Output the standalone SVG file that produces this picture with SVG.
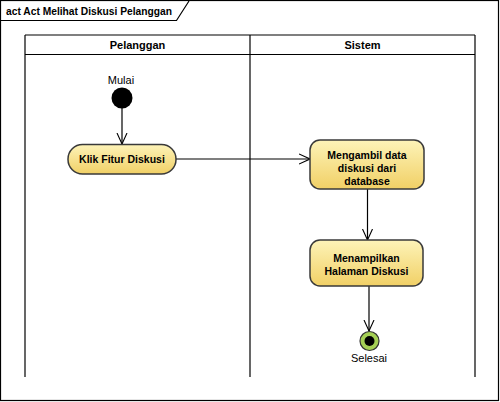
<svg xmlns="http://www.w3.org/2000/svg" width="500" height="402" viewBox="0 0 500 402">
  <style>
    .frame { fill: none; stroke: #000; stroke-width: 1.2; }
    .lane { fill: none; stroke: #000; stroke-width: 1.2; }
    .hdr { font-family: "Liberation Sans", Arial, sans-serif; font-size: 11px; font-weight: bold; fill: #000; text-anchor: middle; }
    .title { font-family: "Liberation Sans", Arial, sans-serif; font-size: 11px; font-weight: bold; fill: #000; }
    .act { fill: url(#actFill); stroke: #3a3a3a; stroke-width: 1.5; }
    .lbl { font-family: "Liberation Sans", Arial, sans-serif; font-size: 10.5px; font-weight: bold; fill: #000; text-anchor: middle; }
    .cap { font-family: "Liberation Sans", Arial, sans-serif; font-size: 11px; fill: #000; text-anchor: middle; }
    .flow { fill: none; stroke: #000; stroke-width: 1.2; marker-end: url(#open); }
  </style>
  <defs>
    <linearGradient id="actFill" x1="0" y1="0" x2="0" y2="1">
      <stop offset="0" stop-color="#fdf3b8"/>
      <stop offset="1" stop-color="#f1d066"/>
    </linearGradient>
    <marker id="open" viewBox="0 0 12 12" refX="11" refY="6" markerWidth="12" markerHeight="12" markerUnits="userSpaceOnUse" orient="auto">
      <path d="M0,1 L11,6 L0,11" fill="none" stroke="#000" stroke-width="1.1"/>
    </marker>
  </defs>

  <!-- diagram frame with name tab -->
  <rect class="frame" x="0.5" y="0.5" width="498" height="400"/>
  <polyline class="frame" points="0.5,20.5 176.5,20.5 189,1"/>
  <text class="title" x="6" y="15" textLength="166" lengthAdjust="spacingAndGlyphs">act Act Melihat Diskusi Pelanggan</text>

  <!-- swimlanes -->
  <g id="lanes">
    <line class="lane" x1="25" y1="35" x2="475" y2="35"/>
    <line class="lane" x1="25" y1="54.5" x2="475" y2="54.5"/>
    <line class="lane" x1="25" y1="35" x2="25" y2="377"/>
    <line class="lane" x1="250" y1="35" x2="250" y2="377"/>
    <line class="lane" x1="475" y1="35" x2="475" y2="377"/>
    <text class="hdr" x="137.5" y="49">Pelanggan</text>
    <text class="hdr" x="362.5" y="49">Sistem</text>
  </g>

  <!-- control flows -->
  <g id="connectors">
    <line class="flow" x1="122" y1="108" x2="122" y2="144"/>
    <line class="flow" x1="176" y1="159" x2="310" y2="159"/>
    <line class="flow" x1="367.5" y1="189" x2="367.5" y2="240"/>
    <line class="flow" x1="369" y1="286" x2="369" y2="331"/>
  </g>

  <g id="start">
    <text class="cap" x="121" y="84">Mulai</text>
    <circle cx="122" cy="98" r="10.5" fill="#000"/>
  </g>

  <g id="klikFitur">
    <rect class="act" x="68" y="144.5" width="108" height="29.5" rx="14.5"/>
    <text class="lbl" x="122" y="163">Klik Fitur Diskusi</text>
  </g>

  <g id="ambilData">
    <rect class="act" x="310" y="140" width="114" height="49" rx="10"/>
    <text class="lbl" x="367" y="159">Mengambil data</text>
    <text class="lbl" x="367" y="172">diskusi dari</text>
    <text class="lbl" x="367" y="185">database</text>
  </g>

  <g id="tampilHalaman">
    <rect class="act" x="310" y="240" width="113" height="46" rx="10"/>
    <text class="lbl" x="366.5" y="262">Menampilkan</text>
    <text class="lbl" x="366.5" y="275">Halaman Diskusi</text>
  </g>

  <g id="final">
    <circle cx="369.5" cy="341" r="9.5" fill="#a5d055" stroke="#333" stroke-width="1.2"/>
    <circle cx="369.5" cy="341" r="5" fill="#000"/>
    <text class="cap" x="369" y="362">Selesai</text>
  </g>
</svg>
